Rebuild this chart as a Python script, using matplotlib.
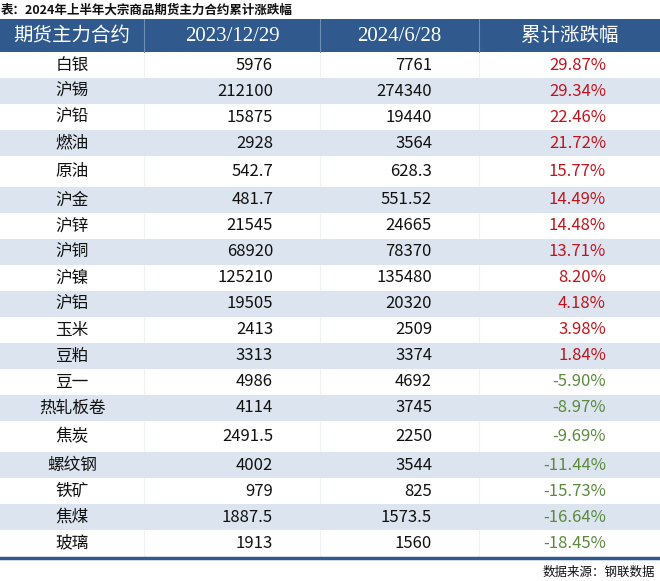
import matplotlib
matplotlib.use("Agg")
from matplotlib import pyplot as plt
from matplotlib.patches import Rectangle

plt.rcParams['font.family'] = ['Noto Sans CJK SC', 'DejaVu Sans']

title = "表：2024年上半年大宗商品期货主力合约累计涨跌幅"
source = "数据来源：钢联数据"
headers = ["期货主力合约", "2023/12/29", "2024/6/28", "累计涨跌幅"]

names = ["白银", "沪锡", "沪铅", "燃油", "原油", "沪金", "沪锌", "沪铜", "沪镍", "沪铝",
         "玉米", "豆粕", "豆一", "热轧板卷", "焦炭", "螺纹钢", "铁矿", "焦煤", "玻璃"]
price_start = ["5976", "212100", "15875", "2928", "542.7", "481.7", "21545", "68920", "125210",
               "19505", "2413", "3313", "4986", "4114", "2491.5", "4002", "979", "1887.5", "1913"]
price_end = ["7761", "274340", "19440", "3564", "628.3", "551.52", "24665", "78370", "135480",
             "20320", "2509", "3374", "4692", "3745", "2250", "3544", "825", "1573.5", "1560"]
change = [29.87, 29.34, 22.46, 21.72, 15.77, 14.49, 14.48, 13.71, 8.20, 4.18,
          3.98, 1.84, -5.90, -8.97, -9.69, -11.44, -15.73, -16.64, -18.45]

W, H = 660, 581
fig = plt.figure(figsize=(W / 100, H / 100), dpi=100)
ax = fig.add_axes([0, 0, 1, 1])
ax.set_xlim(0, W)
ax.set_ylim(H, 0)
ax.axis('off')

header_blue = '#30598e'
stripe = '#dce4ef'
red = '#c0141c'
green = '#5b8a3c'

col_edges = [0, 144, 320, 479, 660]
head_top, head_bot = 19, 52

# header
ax.add_patch(Rectangle((0, head_top), W, head_bot - head_top, color=header_blue, lw=0))
for x in col_edges[1:-1]:
    ax.plot([x, x], [head_top, head_bot], color='#6f8db5', lw=0.8)
for i, h in enumerate(headers):
    cx = (col_edges[i] + col_edges[i + 1]) / 2
    if i in (1, 2):
        ax.text(cx, (head_top + head_bot) / 2 + 1, h, color='white', fontsize=15,
                family='Liberation Serif', ha='center', va='center')
    else:
        ax.text(cx, (head_top + head_bot) / 2, h, color='white', fontsize=14,
                ha='center', va='center', fontweight='light')

# rows
heights = [31 if i in (4, 14) else 26 for i in range(len(names))]
y = head_bot
for i, name in enumerate(names):
    h = heights[i]
    if i % 2 == 1:
        ax.add_patch(Rectangle((0, y), W, h, color=stripe, lw=0))
    cy = y + h / 2
    ax.text(72, cy, name, fontsize=12, ha='center', va='center', color='#111111',
            fontweight='medium')
    ax.text(273, cy, price_start[i], fontsize=12, ha='right', va='center', color='#111111',
            fontweight='medium')
    ax.text(432, cy, price_end[i], fontsize=12, ha='right', va='center', color='#111111',
            fontweight='medium')
    ax.text(606, cy, f"{change[i]:.2f}%", fontsize=12, ha='right', va='center',
            color=red if change[i] > 0 else green)
    y += h

for x in col_edges[1:-1]:
    ax.plot([x, x], [head_bot, y], color='#eef1f5', lw=0.8, zorder=0.5)
ax.plot([0, W], [y + 1.5, y + 1.5], color=header_blue, lw=2.5)

ax.text(1, 10, title, fontsize=9, ha='left', va='center', color='#111111', fontweight='bold')
ax.text(655, 572, source, fontsize=9, ha='right', va='center', color='#111111', fontweight='medium')

fig.savefig('out.png', dpi=100)
